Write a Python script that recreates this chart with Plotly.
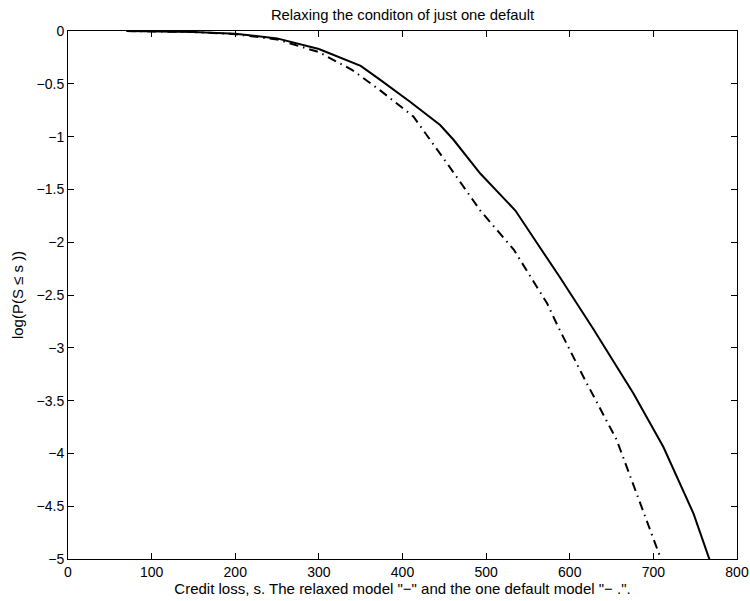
import plotly.graph_objects as go

# Relaxed model (solid)
relaxed_x = [70, 100, 150, 200, 250, 300, 350, 373, 409, 445, 461, 493, 535, 561, 588, 628, 676, 712, 748, 766, 768]
relaxed_y = [0.0, -0.002, -0.01, -0.025, -0.07, -0.17, -0.33, -0.46, -0.67, -0.89, -1.03, -1.35, -1.70, -2.01, -2.33, -2.82, -3.43, -3.94, -4.57, -4.98, -5.02]

# One default model (dash-dot)
onedef_x = [70, 100, 150, 200, 250, 300, 340, 373, 413, 453, 493, 533, 573, 586, 616, 656, 696, 708, 710]
onedef_y = [0.0, -0.002, -0.01, -0.03, -0.08, -0.2, -0.37, -0.56, -0.81, -1.25, -1.70, -2.07, -2.58, -2.80, -3.27, -3.87, -4.73, -4.98, -5.02]

x_ticks = [0, 100, 200, 300, 400, 500, 600, 700, 800]
y_ticks = [0, -0.5, -1, -1.5, -2, -2.5, -3, -3.5, -4, -4.5, -5]
y_tick_labels = ["0", "\u22120.5", "\u22121", "\u22121.5", "\u22122", "\u22122.5", "\u22123", "\u22123.5", "\u22124", "\u22124.5", "\u22125"]

FONT = "Liberation Sans, Arial, Helvetica"

fig = go.Figure()
fig.add_trace(go.Scatter(x=relaxed_x, y=relaxed_y, mode="lines",
                         line=dict(color="black", width=2), showlegend=False))
fig.add_trace(go.Scatter(x=onedef_x, y=onedef_y, mode="lines",
                         line=dict(color="black", width=2, dash="9px,5px,1.5px,5px"), showlegend=False))

fig.update_layout(
    width=750, height=601,
    margin=dict(l=68, r=13, t=31, b=42),
    paper_bgcolor="white", plot_bgcolor="white",
    font=dict(family=FONT, color="black", size=14),
    title=dict(text="Relaxing the conditon of just one default", x=0.5, xref="paper", xanchor="center",
               y=1 - 14.5 / 601, yanchor="middle", yref="container",
               font=dict(family=FONT, size=14.8, color="black")),
    xaxis=dict(range=[0, 800], tickvals=x_ticks, ticks="inside", ticklen=6, tickcolor="black",
               showline=True, linecolor="black", linewidth=1, mirror="ticks", showgrid=False,
               zeroline=False, automargin=False, tickfont=dict(size=14),
               title=dict(text='Credit loss, s. The relaxed model "\u2212" and the one default model "\u2212 .".',
                          standoff=0, font=dict(size=15))),
    yaxis=dict(range=[-5, 0], tickvals=y_ticks, ticktext=y_tick_labels, ticks="inside", ticklen=6,
               tickcolor="black", showline=True, linecolor="black", linewidth=1, mirror="ticks",
               showgrid=False, zeroline=False, automargin=False, tickfont=dict(size=14),
               ticksuffix="\u00a0",
               title=dict(text="log(P(S \u2264 s ))", standoff=9, font=dict(size=15))),
)

fig.write_html("out.html", config={"displayModeBar": False},
               post_script="document.body.style.margin='0';document.body.style.overflow='hidden';")
